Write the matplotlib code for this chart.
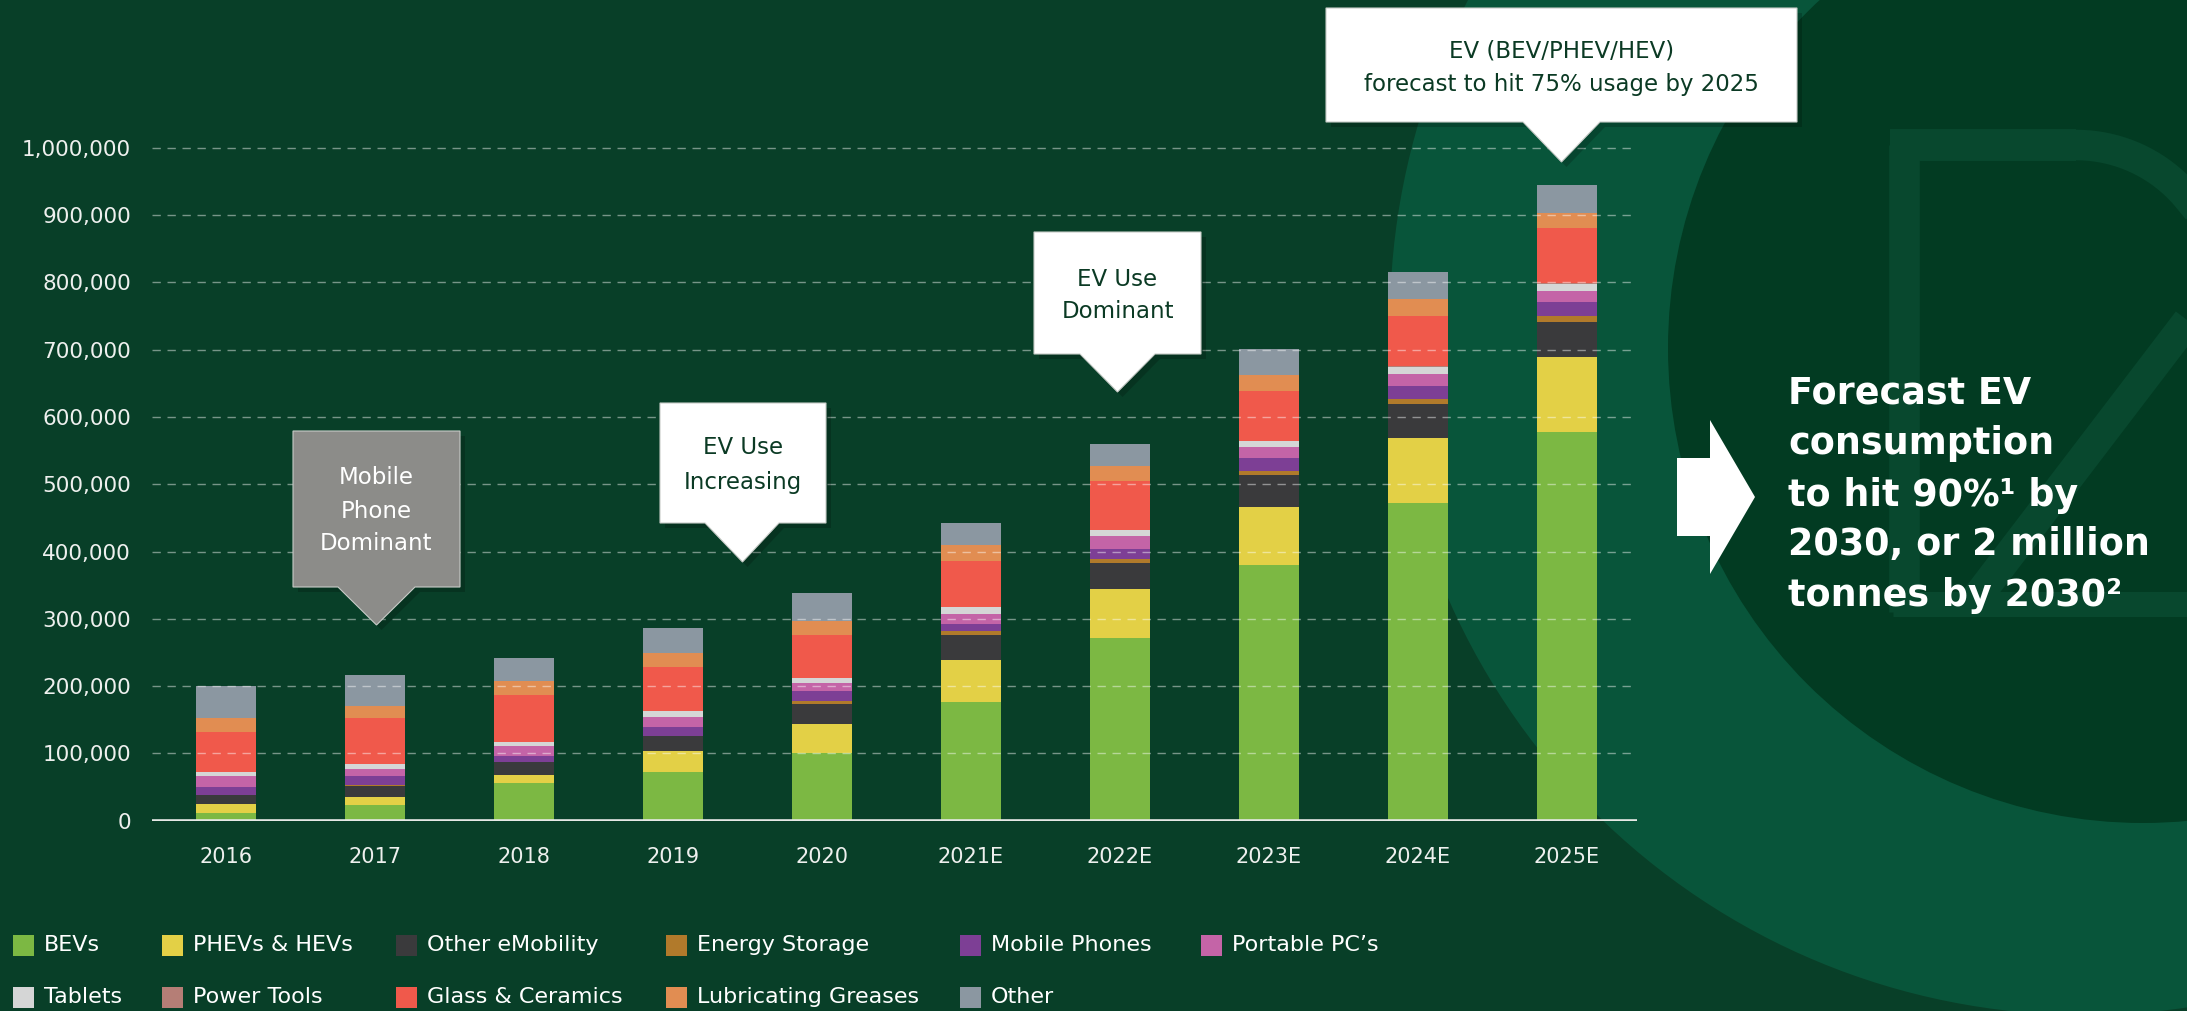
import matplotlib
matplotlib.use("Agg")
import matplotlib.pyplot as plt
from matplotlib.patches import Polygon, Circle, Rectangle
import numpy as np

# ---------------- data ----------------
years = ["2016", "2017", "2018", "2019", "2020", "2021E", "2022E", "2023E", "2024E", "2025E"]
series_names = ["BEVs", "PHEVs & HEVs", "Other eMobility", "Energy Storage", "Mobile Phones",
                "Portable PC\u2019s", "Tablets", "Power Tools", "Glass & Ceramics",
                "Lubricating Greases", "Other"]
bevs            = [11500, 23300, 55900, 72800, 99900, 177000, 270900, 379300, 471500, 576900]
phevs_hevs      = [13500, 12300, 11900, 31200, 44400, 62200, 73100, 87500, 96800, 112100]
other_emobility = [12500, 16300, 18800, 21200, 29700, 36600, 39100, 47100, 51100, 52400]
energy_storage  = [500, 500, 500, 500, 4000, 6000, 6400, 5300, 7300, 8600]
mobile_phones   = [12500, 14500, 8900, 12900, 14300, 10800, 14400, 19900, 19200, 20600]
portable_pcs    = [15500, 9400, 15400, 15400, 12800, 14900, 19200, 16600, 17200, 15900]
tablets         = [6000, 8000, 4900, 8400, 7000, 9800, 8400, 8100, 11500, 11400]
power_tools     = [500, 500, 500, 500, 500, 500, 500, 500, 500, 500]
glass_ceramics  = [59500, 67300, 69800, 64800, 62700, 68800, 73200, 73600, 74200, 82200]
lub_greases     = [21000, 18300, 21300, 20800, 21300, 23700, 22200, 24600, 25200, 22600]
other           = [47500, 45500, 33200, 37600, 41000, 32100, 32700, 37800, 40500, 41800]
series_values = [bevs, phevs_hevs, other_emobility, energy_storage, mobile_phones, portable_pcs,
                 tablets, power_tools, glass_ceramics, lub_greases, other]
series_colors = ["#7cb843", "#e3d046", "#3a3a3c", "#b17a2b", "#7d3f95", "#c464a7",
                 "#d5d6d6", "#b57e76", "#f0594b", "#e18d52", "#8b97a1"]
y_ticks = list(range(0, 1000001, 100000))

# callout / annotation text
callouts = [
    (["Mobile", "Phone", "Dominant"], "#8c8c89", "white"),
    (["EV Use", "Increasing"], "white", "#0b3a24"),
    (["EV Use", "Dominant"], "white", "#0b3a24"),
    (["EV (BEV/PHEV/HEV)", "forecast to hit 75% usage by 2025"], "white", "#0b3a24"),
]
side_text = ["Forecast EV", "consumption", "to hit 90%\u00b9 by", "2030, or 2 million",
             "tonnes by 2030\u00b2"]

# ---------------- figure ----------------
W, H = 2187, 1011
BG = "#083f28"
fig = plt.figure(figsize=(W / 100, H / 100), dpi=100, facecolor=BG)
plt.rcParams["font.family"] = ["DejaVu Sans"]

# background decoration axes (pixel coords)
axb = fig.add_axes([0, 0, 1, 1])
axb.set_xlim(0, W); axb.set_ylim(H, 0); axb.axis("off"); axb.set_zorder(0)
axb.add_patch(Circle((2085, 320), 695, color="#08553a", lw=0))
axb.add_patch(Circle((2143, 348), 475, color="#023b22", lw=0))
dcol = "#08482e"
axb.plot([1904, 1904], [145, 612], color=dcol, lw=22, solid_capstyle="butt")
axb.plot([1890, 2076], [145, 145], color=dcol, lw=23, solid_capstyle="butt")
t = np.linspace(-np.pi / 2, np.pi * 0.06, 40)
axb.plot(2076 + 145 * np.cos(t), 290 + 145 * np.sin(t), color=dcol, lw=22)
axb.plot([2200, 1975], [305, 600], color=dcol, lw=22, solid_capstyle="butt")
axb.plot([1893, 2187], [604, 604], color=dcol, lw=18, solid_capstyle="butt")

# main chart axes
ax_left, ax_right = 152, 1637
y0_px, ytop_val = 820.7, 1.1e6
px_per_val = 673.0 / 1e6
ax_top = y0_px - ytop_val * px_per_val
ax = fig.add_axes([ax_left / W, (H - y0_px) / H, (ax_right - ax_left) / W, (y0_px - ax_top) / H])
ax.set_zorder(1)
ax.patch.set_alpha(0)
x = np.arange(len(years))
bottom = np.zeros(len(years))
for name, vals, col in zip(series_names, series_values, series_colors):
    ax.bar(x, vals, bottom=bottom, width=0.40, color=col, edgecolor="none", label=name, zorder=2)
    bottom += np.array(vals)
ax.set_xlim(-0.497, 9.47)
ax.set_ylim(0, ytop_val)
ax.set_yticks(y_ticks)
ax.set_yticklabels([f"{v:,}" for v in y_ticks], fontsize=15.5, color="#eef0ee")
ax.set_xticks(x)
ax.set_xticklabels(years, fontsize=15, color="#eef0ee")
ax.tick_params(axis="both", length=0)
ax.tick_params(axis="y", pad=15)
ax.tick_params(axis="x", pad=19)
for s in ax.spines.values():
    s.set_visible(False)
ax.yaxis.grid(True, linestyle=(0, (6, 4.8)), color="white", alpha=0.45, lw=1.0, zorder=3)
ax.set_axisbelow(False)
ax.axhline(0, color="#e6e9e6", lw=2.6, zorder=4)

# overlay axes (pixel coords)
axo = fig.add_axes([0, 0, 1, 1])
axo.set_xlim(0, W); axo.set_ylim(H, 0); axo.axis("off"); axo.set_zorder(2)
axo.patch.set_alpha(0)

geoms = [
    # x0, x1, y0, y1, tri_l, tri_r, tip_x, tip_y, line y's
    (293, 460, 431, 587, 338, 415, 376.5, 625, [477, 511, 544]),
    (660, 826, 403, 523, 705, 779, 742.5, 562, [448, 482]),
    (1034, 1201, 232, 354, 1080, 1155, 1117.5, 392, [279, 312]),
    (1326, 1797, 8, 122, 1523, 1600, 1561.5, 162, [50.5, 84]),
]
for (lines, fc, tc), g in zip(callouts, geoms):
    x0, x1, y0, y1, tl, tr, tx, ty, ly = g
    pts = [(x0, y0), (x1, y0), (x1, y1), (tr, y1), (tx, ty), (tl, y1), (x0, y1)]
    shadow = [(px + 5, py + 5) for px, py in pts]
    axo.add_patch(Polygon(shadow, closed=True, color="black", alpha=0.18, lw=0))
    axo.add_patch(Polygon(pts, closed=True, facecolor=fc, edgecolor="#c8ccc8", lw=0.8))
    cx = (x0 + x1) / 2
    for txt, yy in zip(lines, ly):
        axo.text(cx, yy, txt, ha="center", va="center", fontsize=16.5, color=tc)

# block arrow
arrow = [(1677, 458), (1710, 458), (1710, 420), (1755, 497), (1710, 574), (1710, 536), (1677, 536)]
axo.add_patch(Polygon(arrow, closed=True, color="white", lw=0))
for txt, yy in zip(side_text, [393, 444, 495, 545, 596]):
    axo.text(1788, yy, txt, ha="left", va="center", fontsize=26.3, fontweight="bold", color="white")

# legend (two rows)
col_x = [13, 162, 396, 666, 960, 1201]
row_y = [945, 997]
for i, (name, col) in enumerate(zip(series_names, series_colors)):
    r, c = divmod(i, 6)
    xx, yy = col_x[c], row_y[r]
    axo.add_patch(Rectangle((xx, yy - 10.5), 21, 21, color=col, lw=0))
    axo.text(xx + 31, yy, name, ha="left", va="center", fontsize=16, color="white")

fig.savefig("out.png", dpi=100, facecolor=BG)
